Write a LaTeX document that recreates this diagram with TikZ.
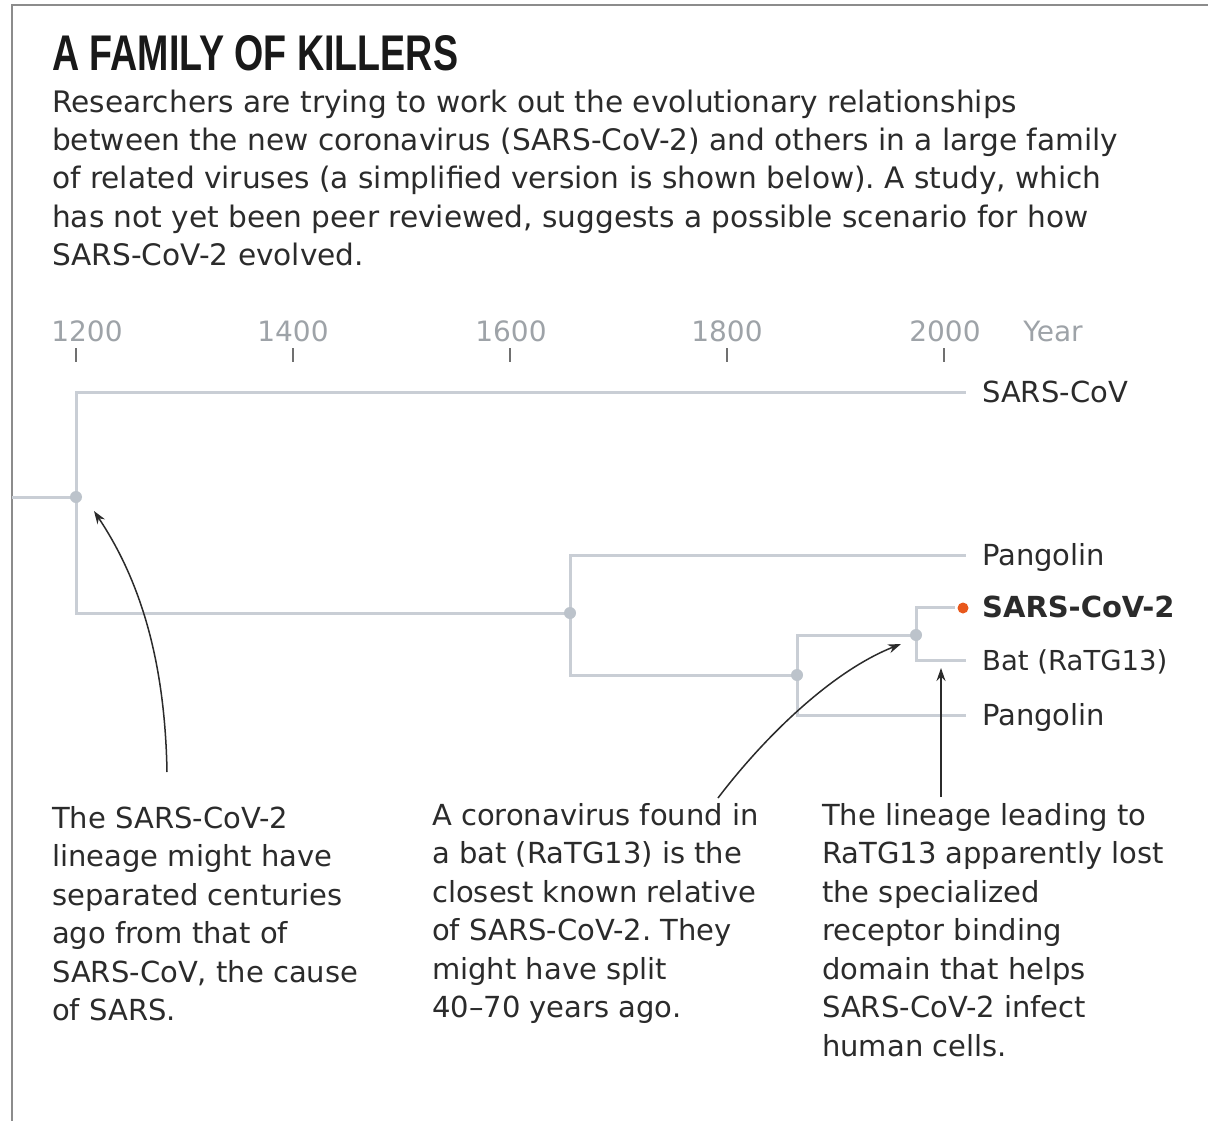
\documentclass[tikz,border=0pt]{standalone}
\usepackage{fontspec}
\setmainfont{DejaVu Sans}
\newfontfamily\titlefont{Liberation Sans}
\usetikzlibrary{arrows.meta}
\definecolor{branchc}{HTML}{C9CED5}
\definecolor{dotc}{HTML}{BCC3CB}
\definecolor{axisc}{HTML}{9EA3A8}
\definecolor{tickc}{HTML}{707070}
\definecolor{txt}{HTML}{2B2B2B}
\definecolor{orng}{HTML}{E8581C}
\definecolor{framec}{HTML}{8C8C8C}
\frenchspacing
\begin{document}
\begin{tikzpicture}[x=1pt,y=-1pt,
  branch/.style={draw=branchc, line width=3pt},
  knot/.style={circle, fill=dotc, inner sep=0pt, minimum size=12pt},
  leaf/.style={anchor=base west, inner sep=0pt, font=\fontsize{29}{34}\selectfont, text=txt},
  axislbl/.style={anchor=base, inner sep=0pt, font=\fontsize{28}{34}\selectfont, text=axisc},
  tick/.style={draw=tickc, line width=1.5pt},
  note/.style={anchor=north west, align=left, inner sep=0pt, font=\fontsize{29}{38.5}\selectfont, text=txt},
  pointer/.style={draw=txt, line width=1.5pt, -{Stealth[length=13pt,width=9pt]}}]
\useasboundingbox (0,0) rectangle (1208,1121);
\fill[white] (0,0) rectangle (1208,1121);
% frame
\draw[framec, line width=2pt] (1208,5) -- (12,5) -- (12,1121);
% title and intro
\node[anchor=base west, inner sep=0pt, text=black!90] (title) at (52,71)
  {\resizebox{406pt}{35pt}{\titlefont\bfseries A FAMILY OF KILLERS}};
\node[note, font=\fontsize{29.6}{38.3}\selectfont] (intro) at (52,89.5)
  {Researchers are trying to work out the evolutionary relationships\\
   between the new coronavirus (SARS-CoV-2) and others in a large family\\
   of related viruses (a simplified version is shown below). A study, which\\
   has not yet been peer reviewed, suggests a possible scenario for how\\
   SARS-CoV-2 evolved.};
% axis
\node[axislbl] (y1200) at (87,341) {1200};
\node[axislbl] (y1400) at (293,341) {1400};
\node[axislbl] (y1600) at (511,341) {1600};
\node[axislbl] (y1800) at (727,341) {1800};
\node[axislbl] (y2000) at (945,341) {2000};
\node[axislbl] (yr) at (1053,341) {Year};
\foreach \t in {76,293,510,727,944} \draw[tick] (\t,348) -- (\t,362);
% tree coordinates
\coordinate (root) at (12,497);
\coordinate (c1) at (76,497);
\coordinate (c2) at (570,613);
\coordinate (c3) at (797,675);
\coordinate (c4) at (916,635);
\coordinate (eSC) at (966,392);
\coordinate (eP1) at (966,555);
\coordinate (eS2) at (955,607);
\coordinate (eBat) at (966,660);
\coordinate (eP2) at (966,715);
% branches
\draw[branch] (root) -- (c1);
\draw[branch] (c1) |- (eSC);
\draw[branch] (c1) |- (c2);
\draw[branch] (c2) |- (eP1);
\draw[branch] (c2) |- (c3);
\draw[branch] (c3) |- (c4);
\draw[branch] (c3) |- (eP2);
\draw[branch] (c4) |- (eS2);
\draw[branch] (c4) |- (eBat);
% knots
\node[knot] (n1) at (c1) {};
\node[knot] (n2) at (c2) {};
\node[knot] (n3) at (c3) {};
\node[knot] (n4) at (c4) {};
\node[circle, fill=orng, inner sep=0pt, minimum size=11pt] (odot) at (963,608) {};
% leaf labels
\node[leaf] (lSC) at (982,402.5) {SARS-CoV};
\node[leaf] (lP1) at (982,565.5) {Pangolin};
\node[leaf, font=\fontsize{29}{34}\selectfont\bfseries] (lS2) at (982,617.5) {SARS-CoV-2};
\node[leaf, font=\fontsize{27.5}{34}\selectfont] (lBat) at (982,670.5) {Bat (RaTG13)};
\node[leaf] (lP2) at (982,725.5) {Pangolin};
% notes
\node[note] (noteA) at (52,806)
  {The SARS-CoV-2\\ lineage might have\\ separated centuries\\ ago from that of\\ SARS-CoV, the cause\\ of SARS.};
\node[note] (noteB) at (432,803)
  {A coronavirus found in\\ a bat (RaTG13) is the\\ closest known relative\\ of SARS-CoV-2. They\\ might have split\\ 40--70 years ago.};
\node[note] (noteC) at (822,803)
  {The lineage leading to\\ RaTG13 apparently lost\\ the specialized\\ receptor binding\\ domain that helps\\ SARS-CoV-2 infect\\ human cells.};
% pointers
\coordinate (pA) at (167,772);
\coordinate (pB) at (718,798);
\coordinate (pC) at (941,797);
\draw[pointer] (pA) .. controls (165,660) and (140,580) .. (94,511);
\draw[pointer] (pB) .. controls (762,740) and (830,672) .. (901,644);
\draw[pointer] (pC) -- (941,668);
\end{tikzpicture}
\end{document}
